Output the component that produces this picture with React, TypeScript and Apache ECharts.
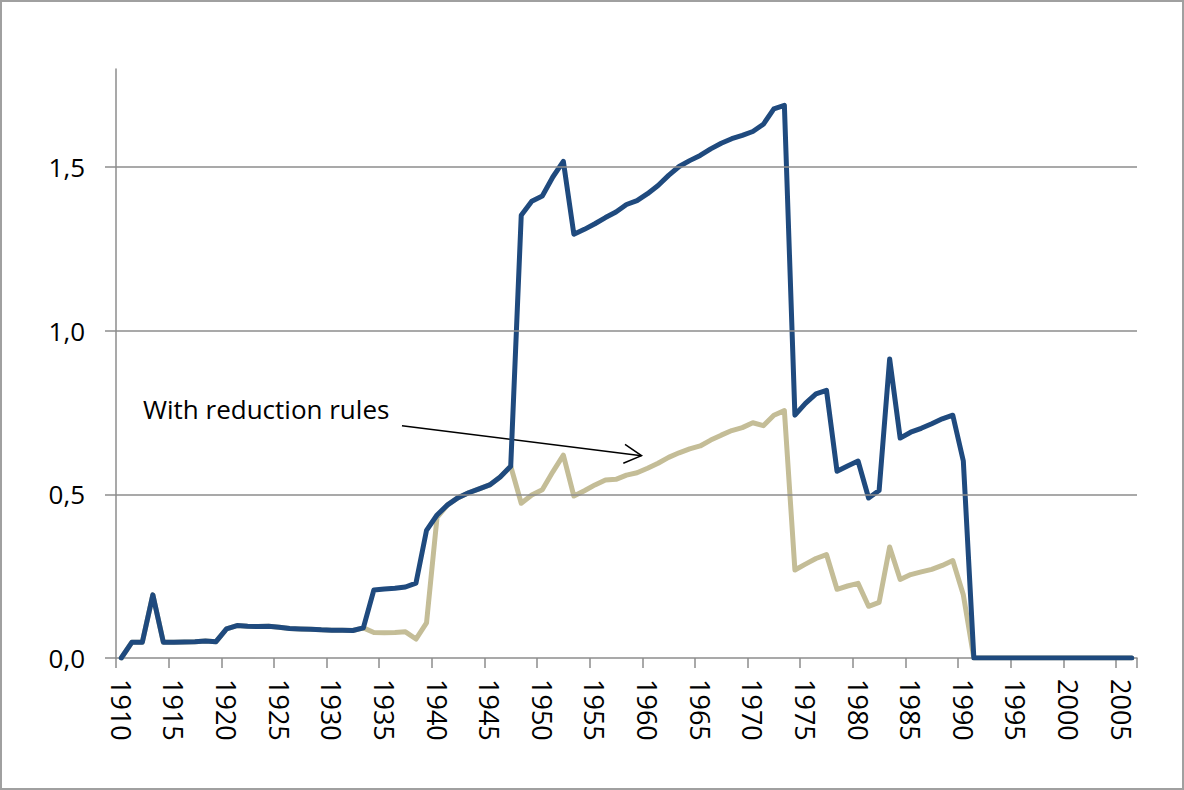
import React, { useEffect, useRef } from "react";
import * as echarts from "echarts";

const years: string[] = Array.from({ length: 97 }, (_, i) => String(1910 + i));

const withoutRules: number[] = [
  0, 0.048, 0.048, 0.193, 0.048, 0.048, 0.049, 0.05, 0.052, 0.05,
  0.089, 0.099, 0.097, 0.096, 0.097, 0.094, 0.09, 0.089, 0.088, 0.086,
  0.085, 0.085, 0.084, 0.092, 0.208, 0.211, 0.213, 0.217, 0.229, 0.39,
  0.437, 0.468, 0.49, 0.505, 0.517, 0.529, 0.553, 0.586, 1.353, 1.396,
  1.412, 1.47, 1.518, 1.295, 1.31, 1.327, 1.346, 1.363, 1.386, 1.398,
  1.419, 1.444, 1.475, 1.502, 1.52, 1.536, 1.556, 1.573, 1.587, 1.597,
  1.609, 1.631, 1.678, 1.689, 0.742, 0.778, 0.807, 0.818, 0.571, 0.587,
  0.602, 0.489, 0.512, 0.914, 0.672, 0.69, 0.702, 0.716, 0.731, 0.742,
  0.602, 0, 0, 0, 0, 0, 0, 0, 0, 0,
  0, 0, 0, 0, 0, 0, 0,
];

const withRules: number[] = [
  0, 0.048, 0.048, 0.193, 0.048, 0.048, 0.049, 0.05, 0.052, 0.05,
  0.089, 0.099, 0.097, 0.096, 0.097, 0.094, 0.09, 0.089, 0.088, 0.086,
  0.085, 0.085, 0.084, 0.092, 0.078, 0.077, 0.078, 0.08, 0.058, 0.107,
  0.43, 0.468, 0.49, 0.505, 0.517, 0.529, 0.553, 0.586, 0.473, 0.498,
  0.514, 0.569, 0.62, 0.495, 0.511, 0.529, 0.544, 0.546, 0.559, 0.566,
  0.58, 0.595, 0.613, 0.627, 0.639, 0.648, 0.666, 0.681, 0.695, 0.704,
  0.719, 0.71, 0.742, 0.756, 0.269, 0.287, 0.304, 0.316, 0.21, 0.22,
  0.228, 0.158, 0.17, 0.339, 0.24, 0.255, 0.263, 0.271, 0.283, 0.298,
  0.193, 0, 0, 0, 0, 0, 0, 0, 0, 0,
  0, 0, 0, 0, 0, 0, 0,
];

const yTicks: number[] = [0, 0.5, 1, 1.5];
const gridValues: number[] = [0.5, 1, 1.5];
const annotationText = "With reduction rules";

const FONT = "'Open Sans', 'Noto Sans', sans-serif";
const GRAY = "#8c8c8c";

export default function App() {
  const ref = useRef<HTMLDivElement>(null);

  useEffect(() => {
    if (!ref.current) return;
    const chart = echarts.init(ref.current, null, { renderer: "svg" });
    chart.setOption({
      animation: false,
      backgroundColor: "#ffffff",
      textStyle: { fontFamily: FONT },
      grid: { left: 116, right: 47, top: 69, bottom: 132, containLabel: false },
      xAxis: {
        type: "category",
        data: years,
        boundaryGap: true,
        axisLine: { show: true, lineStyle: { color: GRAY, width: 1.5 } },
        axisTick: {
          show: true,
          interval: 4,
          alignWithLabel: false,
          length: 10,
          lineStyle: { color: GRAY, width: 1.5 },
        },
        axisLabel: {
          interval: 4,
          rotate: -90,
          margin: 21,
          fontSize: 27,
          color: "#000",
          fontFamily: FONT,
        },
        splitLine: { show: false },
      },
      yAxis: {
        type: "value",
        min: 0,
        max: 1.8,
        interval: 0.5,
        axisLine: { show: true, lineStyle: { color: GRAY, width: 1.5 } },
        axisTick: {
          show: true,
          length: 11,
          customValues: yTicks,
          lineStyle: { color: GRAY, width: 1.5 },
        },
        axisLabel: {
          customValues: yTicks,
          margin: 31,
          fontSize: 26,
          color: "#000",
          fontFamily: FONT,
          formatter: (v: number) => v.toFixed(1).replace(".", ","),
        },
        splitLine: { show: false },
      },
      series: [
        {
          name: "grid",
          type: "line",
          data: [],
          z: 1,
          silent: true,
          markLine: {
            silent: true,
            symbol: ["none", "none"],
            label: { show: false },
            lineStyle: { color: GRAY, width: 1.5, type: "solid" },
            data: gridValues.map((v) => ({ yAxis: v })),
          },
        },
        {
          name: "With reduction rules",
          type: "line",
          data: withRules,
          showSymbol: false,
          z: 2,
          lineStyle: { color: "#C4BD97", width: 5, cap: "round", join: "round" },
          itemStyle: { color: "#C4BD97" },
        },
        {
          name: "Without reduction rules",
          type: "line",
          data: withoutRules,
          showSymbol: false,
          z: 3,
          lineStyle: { color: "#1F4A7E", width: 5, cap: "round", join: "round" },
          itemStyle: { color: "#1F4A7E" },
        },
      ],
      graphic: [
        {
          type: "rect",
          shape: { x: 1, y: 1, width: 1182, height: 788 },
          style: { fill: "none", stroke: "#a0a0a0", lineWidth: 2 },
          silent: true,
        },
        {
          type: "text",
          x: 143,
          y: 409,
          style: {
            text: annotationText,
            fontSize: 26,
            fontFamily: FONT,
            fill: "#000",
            textAlign: "left",
            textVerticalAlign: "middle",
          },
        },
        {
          type: "line",
          shape: { x1: 402, y1: 425.7, x2: 641.5, y2: 455.7 },
          style: { stroke: "#000", lineWidth: 1.5 },
        },
        {
          type: "polyline",
          shape: { points: [[625, 444.3], [641.5, 455.7], [623.3, 463.3]] },
          style: { stroke: "#000", lineWidth: 1.5, fill: "none" },
        },
      ],
    });
    return () => chart.dispose();
  }, []);

  return (
    <div
      ref={ref}
      style={{ position: "absolute", left: 0, top: 0, width: 1184, height: 790 }}
    />
  );
}
